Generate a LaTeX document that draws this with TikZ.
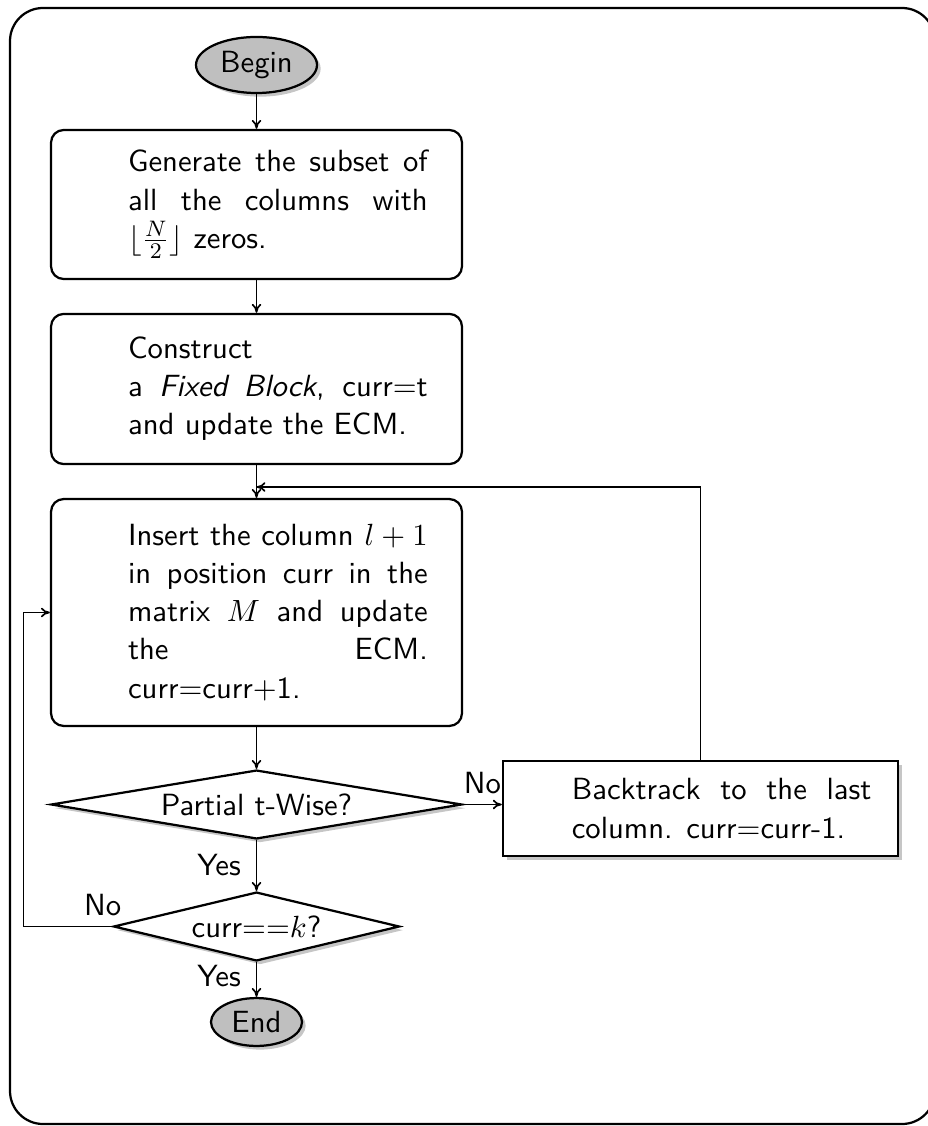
\documentclass[tikz,border=0pt]{standalone}
\usetikzlibrary{shapes.geometric,shadows,arrows.meta}
\newcommand{\boxsetup}[1]{\spaceskip=0pt\xspaceskip=0pt\leftskip=#1\relax}
\begin{document}
\begin{tikzpicture}[x=0.357pt,y=-0.357pt,
  every node/.style={font=\sffamily\fontsize{10.95}{13.6}\selectfont},
  shad/.style={drop shadow={shadow xshift=1.3pt,shadow yshift=-1.3pt,opacity=0.45}},
  term/.style={ellipse,draw,thick,fill=gray!50,inner sep=0pt,shad},
  proc/.style={rectangle,draw,thick,rounded corners=4.5pt,fill=white,inner ysep=4pt,
    inner xsep=12.1pt,text width=122.5pt,align=left},
  back/.style={rectangle,draw,thick,fill=white,inner ysep=4pt,
    inner xsep=9.3pt,text width=122.5pt,align=left,shad},
  dec/.style={diamond,draw,thick,fill=white,inner sep=0pt,shad},
  arr/.style={-{To[length=3.2pt,width=3.4pt]},semithick}]
\useasboundingbox (0,0) rectangle (927,1126);
\draw[thick,rounded corners=11.8pt] (10,8) rectangle (935,1124);

\node[term,minimum width=43.2pt,minimum height=20pt] (begin) at (256.5,65) {Begin};
\node[proc,minimum height=53.2pt] (b1) at (256.5,204.5)
  {\boxsetup{15.4pt}\makebox[107pt][s]{Generate the subset of}\\
   \makebox[107pt][s]{all the columns with}\\
   $\lfloor\frac{N}{2}\rfloor$ zeros.\par};
\node[proc,minimum height=53.6pt] (b2) at (256.5,389)
  {\boxsetup{15.4pt}Construct\\
   \makebox[107pt][s]{a \emph{Fixed Block}, curr=t}\\
   and update the ECM.\par};
\node[proc,minimum height=81pt] (b3) at (256.5,612.5)
  {\boxsetup{15.4pt}\makebox[107pt][s]{Insert the column $l+1$}\\
   \makebox[107pt][s]{in position curr in the}\\
   \makebox[107pt][s]{matrix $M$ and update}\\
   \makebox[107pt][s]{the ECM.}\\
   curr=curr+1.\par};
\node[dec,aspect=6,minimum width=146.7pt,minimum height=24.6pt] (d1) at (256.5,804.5) {Partial t-Wise?};
\node[back,minimum height=33.9pt] (bt) at (700.5,808.5)
  {\boxsetup{15.3pt}\makebox[107pt][s]{Backtrack to the last}\\
   column. curr=curr-1.\par};
\node[dec,aspect=4.1,minimum width=102.1pt,minimum height=24.6pt] (d2) at (256.5,926.5) {curr==$k$?};
\node[term,minimum width=32.5pt,minimum height=17.1pt] (end) at (256.5,1022) {End};

\coordinate (j) at (256.5,487);
\draw[arr] (begin) -- (b1);
\draw[arr] (b1) -- (b2);
\draw[arr] (b2) -- (b3);
\draw[arr] (b3) -- (d1);
\draw[arr] (d1.east) -- node[above]{No} (d1.east -| bt.west);
\draw[arr] (bt.north) |- (j);
\draw[arr] (d1) -- node[left,xshift=-2pt]{Yes} (d2);
\draw[arr] (d2) -- node[left,pos=0.4,xshift=-2pt]{Yes} (end);
\draw[arr] (d2.west) -- ++(-89,0) node[pos=0.11,above]{No} |- (b3.west);
\end{tikzpicture}
\end{document}
